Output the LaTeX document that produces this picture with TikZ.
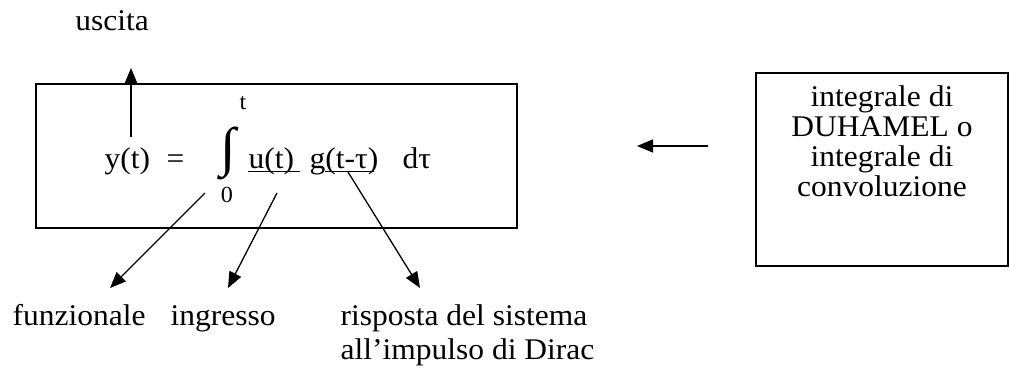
\documentclass[tikz,border=0pt]{standalone}
\usepackage{fontspec}
\setmainfont{Liberation Serif}[FakeStretch=1.05]
\usetikzlibrary{arrows.meta}

\begin{document}
\begin{tikzpicture}[x=1pt,y=-1pt,line width=1.3pt,
	>={Triangle[length=16pt,width=13pt]},
	every node/.style={inner sep=0pt,font=\fontsize{30}{30}\selectfont},
	limit/.style={font=\fontsize{23}{23}\selectfont},
	label/.style={anchor=base west,align=left}]
	\useasboundingbox (0,0) rectangle (1009,367);

	\draw (36,84) rectangle (517,228);
	\draw (756,73) rectangle (1008,266);

	\node (uscita) at (112,21) {uscita};

	\node[anchor=base west] (yt) at (104,168) {y(t)};
	\node[anchor=base west] (eq) at (166,168) {=};
	\node[font=\fontsize{54}{54}\selectfont] (intg) at (228,153) {∫};
	\node[limit] (upper) at (243,103) {t};
	\node[limit] (lower) at (227,195) {0};
	\node[anchor=base west] (ut) at (248,168) {u(t)};
	\node[anchor=base west] (gt) at (309,168) {g(t-τ)};
	\node[anchor=base west] (dtau) at (402,168) {dτ};

	\draw[line width=1pt] (248,171) -- (300,171);
	\draw[line width=1pt] (325,171) -- (374,171);

	\node[label] (funz) at (12,325) {funzionale};
	\node[label] (ingr) at (170,325) {ingresso};
	\node[label,font=\fontsize{30}{34}\selectfont] (risp) at (340,359)
		{risposta del sistema\\all’impulso di Dirac};

	\node[align=center,anchor=north] (duhamel) at (882,85)
		{integrale di\\DUHAMEL o\\integrale di\\convoluzione};

	\coordinate (out0) at (131,137);
	\coordinate (out1) at (131,68);
	\coordinate (f0) at (205,193);
	\coordinate (f1) at (110,288);
	\coordinate (i0) at (277,193);
	\coordinate (i1) at (228,288);
	\coordinate (r0) at (348,172);
	\coordinate (r1) at (420,288);
	\coordinate (d0) at (708,146);
	\coordinate (d1) at (637,146);

	\path[->]
	(out0) edge (out1)
	(f0) edge (f1)
	(i0) edge (i1)
	(r0) edge (r1)
	(d0) edge (d1);

\end{tikzpicture}
\end{document}
